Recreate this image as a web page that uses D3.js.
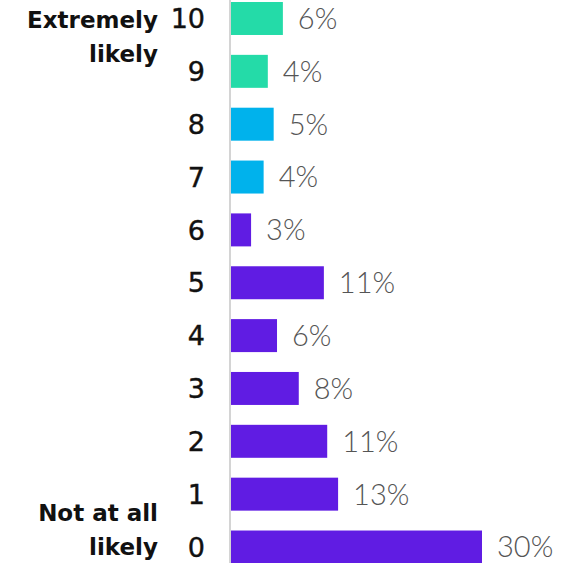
<!DOCTYPE html>
<html>
<head>
<meta charset="utf-8">
<script src="https://cdn.jsdelivr.net/npm/d3@7"></script>
<style>
  body { margin: 0; background: #fff; }
  svg { display: block; }
  .score { font-family: "DejaVu Sans", sans-serif; font-size: 27px; fill: #111; stroke: #111; stroke-width: 0.4px; }
  .pct { font-family: Lato, sans-serif; font-size: 29px; font-weight: 300; fill: #555; }
  .end-label { font-family: "DejaVu Sans", sans-serif; font-size: 23px; font-weight: bold; fill: #111; }
</style>
</head>
<body>
<div id="chart"></div>
<script>
var scores = ["10", "9", "8", "7", "6", "5", "4", "3", "2", "1", "0"];
// bar lengths as drawn (percent), and the rounded labels printed beside them
var percents = [6.2, 4.4, 5.1, 3.9, 2.4, 11.1, 5.5, 8.1, 11.5, 12.8, 30];
var percentLabels = ["6%", "4%", "5%", "4%", "3%", "11%", "6%", "8%", "11%", "13%", "30%"];
var groups = ["promoter", "promoter", "passive", "passive", "detractor", "detractor",
              "detractor", "detractor", "detractor", "detractor", "detractor"];
var topLabel = ["Extremely", "likely"];
var bottomLabel = ["Not at all", "likely"];

var width = 568, height = 563;

var color = d3.scaleOrdinal()
    .domain(["promoter", "passive", "detractor"])
    .range(["#24dba8", "#00b2ec", "#601ce3"]);

var x = d3.scaleLinear()
    .domain([0, 30])
    .range([231, 482]);

var y = d3.scaleBand()
    .domain(scores)
    .range([2, 563.5])
    .paddingInner(0.376)
    .paddingOuter(0);

var data = scores.map(function (s, i) {
  return { score: s, value: percents[i], label: percentLabels[i], group: groups[i] };
});

var svg = d3.select("#chart").append("svg")
    .attr("width", width)
    .attr("height", height);

// bars
svg.append("g").selectAll("rect")
    .data(data)
  .enter().append("rect")
    .attr("x", x(0))
    .attr("y", function (d) { return y(d.score); })
    .attr("width", function (d) { return x(d.value) - x(0); })
    .attr("height", y.bandwidth())
    .style("fill", function (d) { return color(d.group); });

// vertical axis line
svg.append("line")
    .attr("x1", x(0) - 1)
    .attr("x2", x(0) - 1)
    .attr("y1", 0)
    .attr("y2", height)
    .style("stroke", "#d4d4d4")
    .style("stroke-width", 2);

// score labels
svg.append("g").selectAll("text")
    .data(data)
  .enter().append("text")
    .attr("class", "score")
    .attr("x", 205)
    .attr("y", function (d) { return y(d.score) + y.bandwidth() / 2; })
    .attr("dy", "0.36em")
    .attr("text-anchor", "end")
    .text(function (d) { return d.score; });

// value labels
svg.append("g").selectAll("text")
    .data(data)
  .enter().append("text")
    .attr("class", "pct")
    .attr("x", function (d) { return x(d.value) + 15; })
    .attr("y", function (d) { return y(d.score) + y.bandwidth() / 2; })
    .attr("dy", "0.36em")
    .text(function (d) { return d.label; });

// end labels
function endLabel (lines, baseline) {
  svg.append("text")
      .attr("class", "end-label")
      .attr("text-anchor", "end")
      .attr("y", baseline)
    .selectAll("tspan")
      .data(lines)
    .enter().append("tspan")
      .attr("x", 158)
      .attr("dy", function (d, i) { return i ? 34 : 0; })
      .text(function (d) { return d; });
}
endLabel(topLabel, 28);
endLabel(bottomLabel, 521);
</script>
</body>
</html>
